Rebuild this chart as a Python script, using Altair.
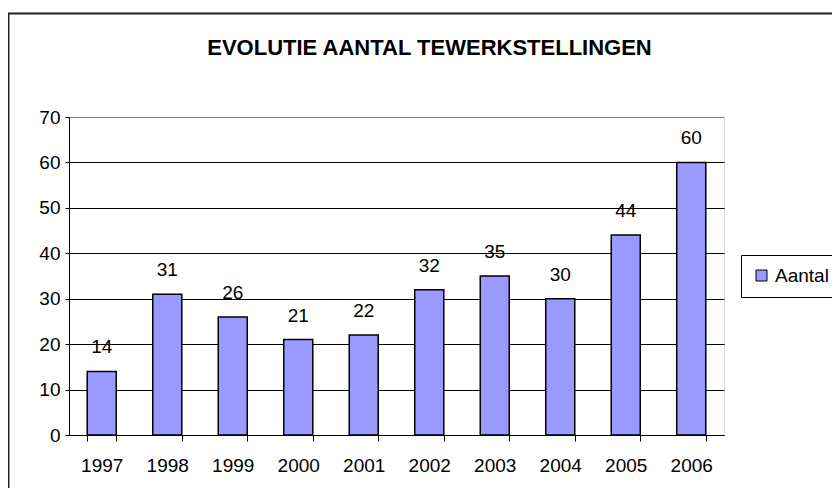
import altair as alt
import pandas as pd

years = ["1997", "1998", "1999", "2000", "2001", "2002", "2003", "2004", "2005", "2006"]
values = [14, 31, 26, 21, 22, 32, 35, 30, 44, 60]
series = ["Aantal"] * len(years)
title_text = "EVOLUTIE AANTAL TEWERKSTELLINGEN"
y_ticks = [0, 10, 20, 30, 40, 50, 60, 70]

df = pd.DataFrame({"jaar": years, "aantal": values, "reeks": series})

FONT = "Liberation Sans"

x_enc = alt.X(
    "jaar:N",
    sort=years,
    scale=alt.Scale(paddingInner=0.557, paddingOuter=0.2785),
    axis=alt.Axis(
        title=None,
        labelAngle=0,
        labelFont=FONT,
        labelFontSize=19,
        labelColor="black",
        labelPadding=15,
        tickBand="extent",
        tickSize=6,
        tickColor="black",
        domainColor="black",
        grid=False,
    ),
)
y_enc = alt.Y(
    "aantal:Q",
    scale=alt.Scale(domain=[0, 70], nice=False),
    axis=alt.Axis(
        title=None,
        values=y_ticks,
        labelFont=FONT,
        labelFontSize=19,
        labelColor="black",
        labelPadding=5,
        tickSize=4,
        tickColor="black",
        domainColor="black",
        grid=True,
        gridColor={"condition": {"test": "datum.value === 70", "value": "#808080"}, "value": "black"},
        gridWidth=1,
        gridOpacity=1,
    ),
)

bars = alt.Chart(df).mark_bar(stroke="black", strokeWidth=1.5).encode(
    x=x_enc,
    y=y_enc,
    color=alt.Color(
        "reeks:N",
        scale=alt.Scale(domain=["Aantal"], range=["#9999FF"]),
        legend=alt.Legend(
            title=None,
            orient="none",
            legendX=672,
            legendY=138,
            symbolType="square",
            symbolSize=121,
            symbolStrokeColor="black",
            symbolStrokeWidth=1,
            labelFont=FONT,
            labelFontSize=19,
            labelColor="black",
            labelOffset=4,
            padding=11,
            strokeColor="black",
        ),
    ),
)

labels = alt.Chart(df).mark_text(
    font=FONT, fontSize=19, color="black", baseline="alphabetic", dy=-18
).encode(x=alt.X("jaar:N", sort=years), y="aantal:Q", text="aantal:Q")

frame_df = pd.DataFrame({"k": [0]})
frame = alt.Chart(frame_df).mark_rect(
    fillOpacity=0, stroke="#222222", strokeWidth=2
).encode(
    x=alt.value(-60.5), x2=alt.value(900), y=alt.value(-103.5), y2=alt.value(500)
)

chart = (
    alt.layer(frame, bars, labels)
    .properties(
        width=655,
        height=318,
        padding={"left": 61, "top": 109, "right": 108, "bottom": 53},
        autosize=alt.AutoSizeParams(type="none"),
        title=alt.TitleParams(
            text=title_text,
            font=FONT,
            fontSize=22,
            fontWeight="bold",
            color="black",
            anchor="middle",
            frame="group",
            offset=0,
            dy=47,
            dx=33,
        ),
    )
    .configure_view(stroke="#808080", strokeWidth=1)
    .configure(background="white")
)

chart.save("out.html", embed_options={"renderer": "svg", "actions": False})
